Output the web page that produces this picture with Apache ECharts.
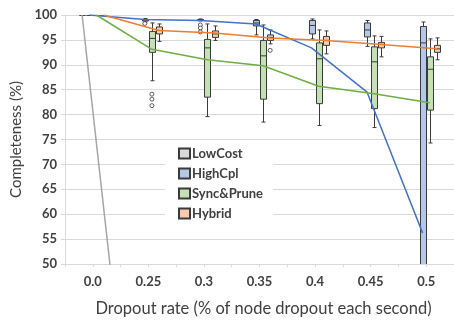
<!DOCTYPE html>
<html>
<head>
<meta charset="utf-8">
<script src="https://cdn.jsdelivr.net/npm/echarts@6/dist/echarts.min.js"></script>
<style>
html,body{margin:0;padding:0;background:#fff;}
#chart{width:454px;height:322px;}
</style>
</head>
<body>
<div id="chart"></div>
<script>
// ---- data ----
const categories = ['0.0', '0.25', '0.3', '0.35', '0.4', '0.45', '0.5'];
const yTicks = [50, 55, 60, 65, 70, 75, 80, 85, 90, 95, 100];
const seriesNames = ['LowCost', 'HighCpl', 'Sync&Prune', 'Hybrid'];

// [min, Q1, median, Q3, max] per category
const lowCostBox = [
  [100, 100, 100, 100, 100], [0, 0, 0, 0, 0], [0, 0, 0, 0, 0], [0, 0, 0, 0, 0],
  [0, 0, 0, 0, 0], [0, 0, 0, 0, 0], [0, 0, 0, 0, 0]
];
const highCplBox = [
  [100, 100, 100, 100, 100],
  [98.6, 98.8, 99.0, 99.1, 99.3],
  [98.8, 98.9, 99.0, 99.1, 99.2],
  [96.0, 97.8, 98.4, 98.9, 99.1],
  [95.2, 96.2, 97.9, 98.9, 99.2],
  [93.7, 95.6, 97.0, 98.4, 98.9],
  [0, 10, 94.4, 97.7, 98.6]
];
const syncPruneBox = [
  [100, 100, 100, 100, 100],
  [86.8, 92.5, 95.3, 96.7, 98.4],
  [79.6, 83.5, 93.4, 95.1, 98.2],
  [78.5, 83.1, 91.8, 94.9, 98.0],
  [77.8, 82.2, 91.2, 94.4, 97.0],
  [77.4, 81.2, 90.6, 93.6, 95.8],
  [74.3, 80.9, 89.1, 91.6, 95.2]
];
const hybridBox = [
  [100, 100, 100, 100, 100],
  [94.7, 96.2, 96.9, 97.6, 98.2],
  [94.9, 95.5, 96.2, 96.8, 97.8],
  [94.2, 94.9, 95.5, 96.0, 97.0],
  [92.2, 93.9, 94.9, 95.7, 96.8],
  [91.6, 93.4, 94.1, 94.5, 95.7],
  [91.0, 92.5, 93.2, 93.9, 95.4]
];

// means (connected by lines)
const lowCostMean = [100, 0, 0, 0, 0, 0, 0];
const highCplMean = [100, 99.1, 98.9, 98.2, 93.4, 84.5, 56.2];
const syncPruneMean = [100, 93.1, 91.0, 89.8, 85.7, 84.2, 82.4];
const hybridMean = [100, 96.9, 96.4, 95.4, 94.9, 94.1, 93.2];

// outliers: [categoryIndex, value]
const lowCostOutliers = [];
const highCplOutliers = [[1, 98.3], [2, 98.0], [2, 97.4], [2, 96.6]];
const syncPruneOutliers = [[1, 84.1], [1, 83.1], [1, 81.8]];
const hybridOutliers = [[3, 92.9]];

// ---- styling / layout ----
const fills = ['#d9d9d9', '#b4c7e7', '#c5e0b4', '#f8cbad'];
const lineColors = ['#a5a5a5', '#4472c4', '#70ad47', '#ed7d31'];
const offsets = [-0.192, -0.064, 0.064, 0.192];
const BOX_W = 0.108;
const FONT = 'Lato, "Open Sans", sans-serif';
const TXT = '#404040';
const STROKE = '#3a3a3a';

const boxes = [lowCostBox, highCplBox, syncPruneBox, hybridBox];
const means = [lowCostMean, highCplMean, syncPruneMean, hybridMean];
const outliers = [lowCostOutliers, highCplOutliers, syncPruneOutliers, hybridOutliers];

function boxRender(off) {
  return function (params, api) {
    const i = api.value(0);
    const x = i + off;
    const pLo = api.coord([x, api.value(1)]);
    const pQ1 = api.coord([x, api.value(2)]);
    const pMed = api.coord([x, api.value(3)]);
    const pQ3 = api.coord([x, api.value(4)]);
    const pHi = api.coord([x, api.value(5)]);
    const w = api.size([BOX_W, 0])[0];
    const cx = Math.round(pLo[0]) + 0.5;
    const cap = 2;
    const st = { stroke: STROKE, lineWidth: 1, fill: null };
    return {
      type: 'group',
      children: [
        { type: 'line', shape: { x1: cx, y1: pQ3[1], x2: cx, y2: pHi[1] }, style: st },
        { type: 'line', shape: { x1: cx, y1: pQ1[1], x2: cx, y2: pLo[1] }, style: st },
        { type: 'line', shape: { x1: cx - cap, y1: pHi[1], x2: cx + cap, y2: pHi[1] }, style: st },
        { type: 'line', shape: { x1: cx - cap, y1: pLo[1], x2: cx + cap, y2: pLo[1] }, style: st },
        { type: 'rect', shape: { x: cx - w / 2, y: pQ3[1], width: w, height: pQ1[1] - pQ3[1] },
          style: { fill: api.visual('color'), stroke: STROKE, lineWidth: 1 } },
        { type: 'line', shape: { x1: cx - w / 2, y1: pMed[1], x2: cx + w / 2, y2: pMed[1] }, style: st }
      ]
    };
  };
}

const series = [];
seriesNames.forEach(function (name, s) {
  series.push({
    name: name,
    type: 'custom',
    coordinateSystem: 'cartesian2d',
    xAxisIndex: 1,
    yAxisIndex: 0,
    clip: true,
    z: 2,
    itemStyle: { color: fills[s], borderColor: STROKE, borderWidth: 1 },
    renderItem: boxRender(offsets[s]),
    encode: { x: 0, y: [1, 2, 3, 4, 5] },
    data: boxes[s].map(function (b, i) { return [i].concat(b); })
  });
});
seriesNames.forEach(function (name, s) {
  series.push({
    name: name + ' mean',
    type: 'line',
    xAxisIndex: 1,
    yAxisIndex: 0,
    z: 4,
    symbol: 'none',
    clip: true,
    lineStyle: { color: lineColors[s], width: 1.5 },
    data: means[s].map(function (m, i) { return [i + offsets[s], m]; })
  });
});
seriesNames.forEach(function (name, s) {
  series.push({
    name: name + ' outliers',
    type: 'scatter',
    xAxisIndex: 1,
    yAxisIndex: 0,
    z: 3,
    symbol: 'circle',
    symbolSize: 4,
    itemStyle: { color: '#fff', borderColor: STROKE, borderWidth: 1 },
    data: outliers[s].map(function (o) { return [o[0] + offsets[s], o[1]]; })
  });
});

const chart = echarts.init(document.getElementById('chart'), null, { renderer: 'canvas' });
chart.setOption({
  animation: false,
  backgroundColor: '#fff',
  grid: { left: 65, right: -5, top: 15, bottom: 54, containLabel: false },
  legend: {
    data: seriesNames,
    orient: 'vertical',
    left: 165,
    top: 143,
    padding: [4, 10, 6, 13],
    backgroundColor: '#fff',
    itemWidth: 11,
    itemHeight: 10,
    itemGap: 7,
    icon: 'rect',
    selectedMode: false,
    textStyle: { fontFamily: FONT, fontWeight: 'bold', fontSize: 13, color: TXT, padding: [0, 0, 0, -3] },
    z: 10
  },
  xAxis: [
    {
      type: 'category',
      data: categories,
      boundaryGap: true,
      axisLine: { show: true, onZero: false, lineStyle: { color: '#d9d9d9' } },
      axisTick: { show: false },
      axisLabel: { fontFamily: FONT, fontWeight: 'bold', fontSize: 13, color: TXT, margin: 11 },
      name: 'Dropout rate (% of node dropout each second)',
      nameLocation: 'middle',
      nameGap: 36,
      nameTextStyle: { fontFamily: FONT, fontSize: 16.5, color: TXT, padding: [0, 0, 0, 8] },
      splitLine: { show: false }
    },
    {
      type: 'value',
      min: -0.5,
      max: 6.5,
      interval: 0.5,
      position: 'bottom',
      axisLine: { show: false, onZero: false },
      axisTick: { show: true, length: 3, lineStyle: { color: '#d9d9d9' } },
      axisLabel: { show: false },
      splitLine: { show: false }
    }
  ],
  yAxis: {
    type: 'value',
    min: yTicks[0],
    max: yTicks[yTicks.length - 1],
    interval: 5,
    axisLine: { show: true, onZero: false, lineStyle: { color: '#d9d9d9' } },
    axisTick: { show: true, length: 4, lineStyle: { color: '#d9d9d9' } },
    axisLabel: { fontFamily: FONT, fontWeight: 'bold', fontSize: 13, color: TXT, margin: 8 },
    splitLine: { show: true, lineStyle: { color: '#d9d9d9', width: 1 } },
    name: 'Completeness (%)',
    nameLocation: 'middle',
    nameGap: 40,
    nameTextStyle: { fontFamily: FONT, fontSize: 15, color: TXT }
  },
  series: series
});
</script>
</body>
</html>
